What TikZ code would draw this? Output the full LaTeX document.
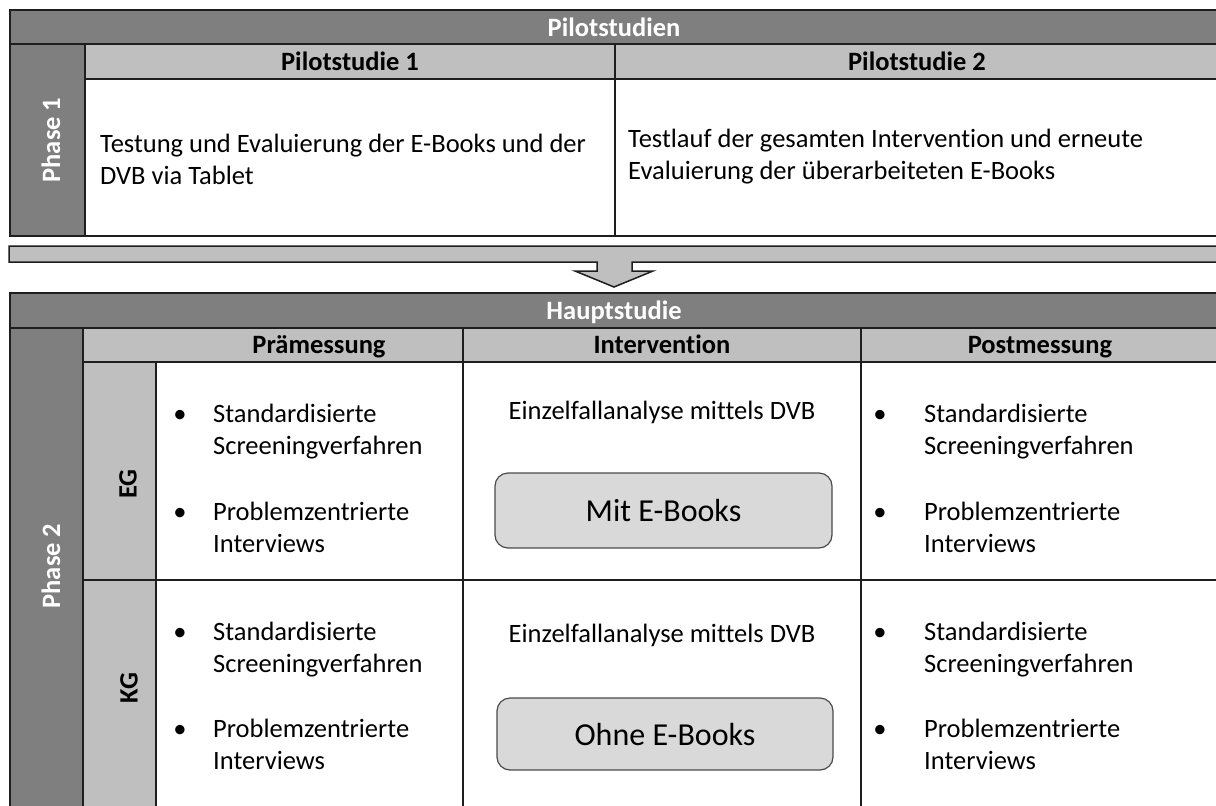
\documentclass[tikz,border=0pt]{standalone}
\usepackage{fontspec}
\setmainfont{Carlito}[Ligatures=NoCommon]
\usetikzlibrary{calc}
\definecolor{darkcell}{HTML}{7F7F7F}
\definecolor{lightcell}{HTML}{BFBFBF}
\definecolor{boxfill}{HTML}{D9D9D9}
\definecolor{rule}{HTML}{1E1E1E}
\tikzset{
  gridline/.style={draw=rule, line width=1.8pt},
  hdwhite/.style={font=\fontsize{26.5}{32}\selectfont\bfseries, text=white, inner sep=0pt},
  hdblack/.style={font=\fontsize{26.5}{32}\selectfont\bfseries, text=black, inner sep=0pt},
  bodytxt/.style={font=\fontsize{26.5}{32}\selectfont, text=black, inner sep=0pt, anchor=base west},
  centtxt/.style={font=\fontsize{26.5}{32}\selectfont, text=black, inner sep=0pt, anchor=base},
  bul/.style={font=\fontsize{26.5}{32}\selectfont, text=black, inner sep=0pt, anchor=base},
  ebox/.style={draw=rule!80, line width=1.2pt, fill=boxfill, rounded corners=13pt,
    font=\fontsize{32}{38}\selectfont, text=black, inner sep=0pt},
  arrowshape/.style={draw=rule, line width=1.5pt, fill=lightcell}
}
\newcommand{\bitem}[6]{%
  % #1 name, #2 bullet x, #3 text x, #4 baseline 1, #5 line1, #6 line2 (baseline +32)
  \node[bul] (#1b) at (#2,#4) {•};
  \node[bodytxt] (#1a) at (#3,#4) {#5};
  \node[bodytxt] (#1c) at ($(#3,#4)+(0,32)$) {#6};
}
\begin{document}
\begin{tikzpicture}[x=1pt,y=-1pt]
\useasboundingbox (0,0) rectangle (1216,806);
\clip (0,0) rectangle (1216,806);
\fill[white] (0,0) rectangle (1216,806);

% ---------- Phase 1 table ----------
\fill[darkcell] (10,10) rectangle (1222,44);
\fill[darkcell] (10,44) rectangle (85,236);
\fill[lightcell] (85,44) rectangle (1222,79);
\draw[gridline] (10,10) rectangle (1222,236);
\draw[gridline] (10,44) -- (1222,44);
\draw[gridline] (85,44) -- (85,236);
\draw[gridline] (85,79) -- (1222,79);
\draw[gridline] (615,44) -- (615,236);

\node[hdwhite, anchor=base] (pilot) at (614,36) {Pilotstudien};
\node[hdblack, anchor=base] (p1head) at (350,70) {Pilotstudie 1};
\node[hdblack, anchor=base] (p2head) at (917,70) {Pilotstudie 2};
\node[hdwhite, rotate=90] (phase1) at (51,140) {Phase 1};
\node[bodytxt] (p1a) at (100,152) {Testung und Evaluierung der E-Books und der};
\node[bodytxt] (p1b) at (100,184) {DVB via Tablet};
\node[bodytxt] (p2a) at (628,147) {Testlauf der gesamten Intervention und erneute};
\node[bodytxt] (p2b) at (628,179) {Evaluierung der überarbeiteten E-Books};

% ---------- bar with arrow ----------
\draw[arrowshape] (9,246) -- (1224,246) -- (1224,262) -- (632,262) -- (632,271)
  -- (653,271) -- (614,287) -- (575,271) -- (597,271) -- (597,262) -- (9,262) -- cycle;
\coordinate (arrowtip) at (614,287);

% ---------- Phase 2 table ----------
\fill[darkcell] (10,293) rectangle (1222,328);
\fill[darkcell] (10,328) rectangle (83,830);
\fill[lightcell] (83,328) rectangle (1222,362);
\fill[lightcell] (83,362) rectangle (156,830);
\draw[gridline] (10,293) rectangle (1222,830);
\draw[gridline] (10,328) -- (1222,328);
\draw[gridline] (83,328) -- (83,830);
\draw[gridline] (83,362) -- (1222,362);
\draw[gridline] (156,362) -- (156,830);
\draw[gridline] (463,328) -- (463,830);
\draw[gridline] (861,328) -- (861,830);
\draw[gridline] (83,580) -- (1222,580);

\node[hdwhite, anchor=base] (haupt) at (614,319.5) {Hauptstudie};
\node[hdblack, anchor=base] (prae) at (319,353.5) {Prämessung};
\node[hdblack, anchor=base] (interv) at (662,353.5) {Intervention};
\node[hdblack, anchor=base] (post) at (1040,353.5) {Postmessung};
\node[hdwhite, rotate=90] (phase2) at (51,566) {Phase 2};
\node[hdblack, rotate=90] (eg) at (128,484) {EG};
\node[hdblack, rotate=90] (kg) at (129,688) {KG};

% Prämessung
\bitem{egpreA}{180}{213}{422}{Standardisierte}{Screeningverfahren}
\bitem{egpreB}{180}{213}{520}{Problemzentrierte}{Interviews}
\bitem{kgpreA}{180}{213}{640}{Standardisierte}{Screeningverfahren}
\bitem{kgpreB}{180}{213}{737}{Problemzentrierte}{Interviews}
% Postmessung
\bitem{egpostA}{880}{924}{422}{Standardisierte}{Screeningverfahren}
\bitem{egpostB}{880}{924}{520}{Problemzentrierte}{Interviews}
\bitem{kgpostA}{880}{924}{640}{Standardisierte}{Screeningverfahren}
\bitem{kgpostB}{880}{924}{737}{Problemzentrierte}{Interviews}

% Intervention
\node[centtxt] (egint) at (662,419) {Einzelfallanalyse mittels DVB};
\node[centtxt] (kgint) at (662,642) {Einzelfallanalyse mittels DVB};
\node[ebox, minimum width=337pt, minimum height=75pt] (mitbox) at (663.5,510.5) {Mit E-Books};
\node[ebox, minimum width=336pt, minimum height=72pt] (ohnebox) at (665,734) {Ohne E-Books};
\end{tikzpicture}
\end{document}
